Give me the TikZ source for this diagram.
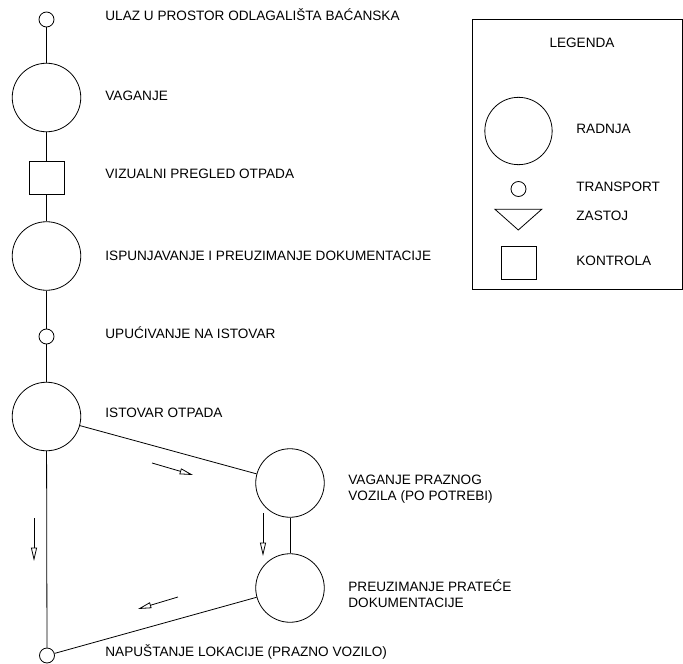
\documentclass[tikz,border=0pt]{standalone}
\usepackage{fontspec}
\setmainfont{Liberation Sans}
\usetikzlibrary{arrows.meta}
\begin{document}
\begin{tikzpicture}[x=0.75pt,y=-0.75pt,
  line width=0.6pt,
  radnja/.style={draw,circle,inner sep=0pt,minimum size=51.4pt},
  transport/.style={draw,circle,inner sep=0pt,minimum size=11.25pt},
  kontrola/.style={draw,rectangle,inner sep=0pt,minimum width=26.25pt,minimum height=24.5pt},
  lbl/.style={anchor=base west,inner sep=0pt,font=\fontsize{10.2pt}{12pt}\selectfont},
  flow/.style={-{Triangle[open,length=10pt,width=4.5pt]},line width=0.6pt}
]
\useasboundingbox (0,0) rectangle (683,664);

% main column
\node[transport] (t1) at (46.5,19.5) {};
\node[radnja] (r1) at (46.5,97.5) {};
\node[kontrola] (k1) at (46.5,178) {};
\node[radnja] (r2) at (46.5,256) {};
\node[transport] (t2) at (46.5,336.5) {};
\node[radnja] (r3) at (46.5,416.5) {};
\node[transport] (t3) at (47,655.5) {};
% second column
\node[radnja] (r4) at (290,483) {};
\node[radnja] (r5) at (290,588) {};

\draw (t1) -- (r1);
\draw (r1) -- (k1);
\draw (k1) -- (r2);
\draw (r2) -- (t2);
\draw (t2) -- (r3);
\draw (r3) -- (t3);
\draw (r3) -- (r4);
\draw (r4) -- (r5);
\draw (r5) -- (t3);

% labels
\node[lbl] (l1) at (105,20.5) {ULAZ U PROSTOR ODLAGALIŠTA BAĆANSKA};
\node[lbl] (l2) at (105,100) {VAGANJE};
\node[lbl] (l3) at (105,178) {VIZUALNI PREGLED OTPADA};
\node[lbl] (l4) at (105,260) {ISPUNJAVANJE I PREUZIMANJE DOKUMENTACIJE};
\node[lbl] (l5) at (105,338) {UPUĆIVANJE NA ISTOVAR};
\node[lbl] (l6) at (105,417) {ISTOVAR OTPADA};
\node[lbl] (l7) at (348,484.5) {VAGANJE PRAZNOG};
\node[lbl] (l8) at (348,500.5) {VOZILA (PO POTREBI)};
\node[lbl] (l9) at (348,591) {PREUZIMANJE PRATEĆE};
\node[lbl] (l10) at (348,607) {DOKUMENTACIJE};
\node[lbl] (l11) at (105,656.7) {NAPUŠTANJE LOKACIJE (PRAZNO VOZILO)};

% flow arrows
\coordinate (a1s) at (152,463);  \coordinate (a1e) at (193,475);
\coordinate (a2s) at (34,518);   \coordinate (a2e) at (34,561);
\coordinate (a3s) at (263,513);  \coordinate (a3e) at (263,556);
\coordinate (a4s) at (178,597);  \coordinate (a4e) at (138,609);
\draw[flow] (a1s) -- (a1e);
\draw[flow] (a2s) -- (a2e);
\draw[flow] (a3s) -- (a3e);
\draw[flow] (a4s) -- (a4e);

% legend
\draw (472.7,19.3) rectangle (682.3,289);
\node[font=\fontsize{10.2pt}{12pt}\selectfont,anchor=base,inner sep=0pt] (lg) at (582,47.5) {LEGENDA};
\node[draw,circle,inner sep=0pt,minimum size=50.5pt] (lr) at (518.5,131) {};
\node[transport] (lt) at (518.5,189) {};
\draw (495,209.3) -- (541.7,209.3) -- (518.3,230) -- cycle;
\node[draw,rectangle,inner sep=0pt,minimum width=26.25pt,minimum height=24.75pt] (lk) at (518.5,262.5) {};
\node[lbl] (lg1) at (576,133.3) {RADNJA};
\node[lbl] (lg2) at (576,191.7) {TRANSPORT};
\node[lbl] (lg3) at (576,220.7) {ZASTOJ};
\node[lbl] (lg4) at (576,265.7) {KONTROLA};
\end{tikzpicture}
\end{document}
